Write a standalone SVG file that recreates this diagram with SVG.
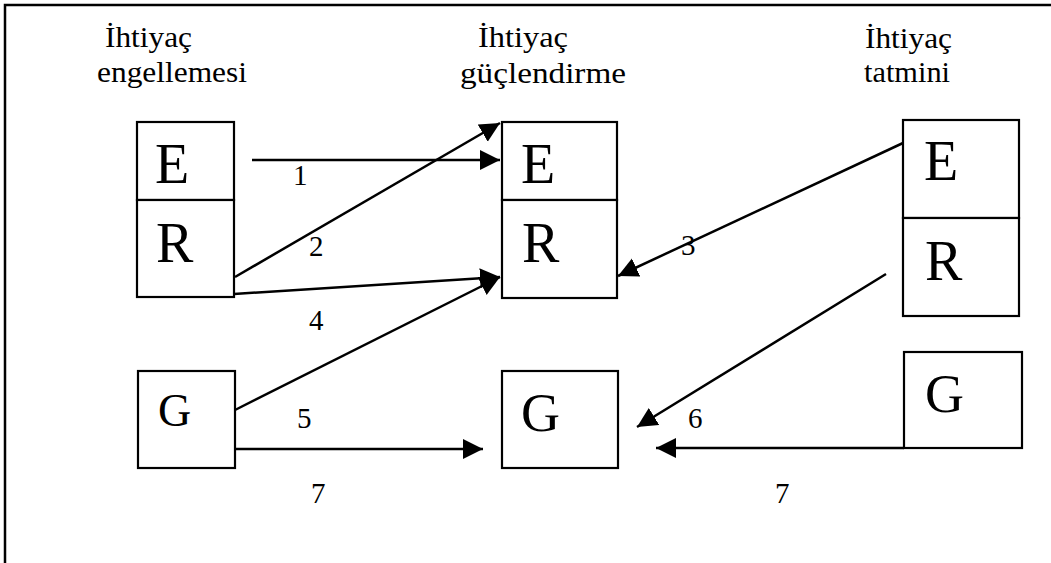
<svg xmlns="http://www.w3.org/2000/svg" width="1051" height="563" viewBox="0 0 1051 563">
<style>
.box{fill:#fff;stroke:#000;stroke-width:2.2}
.hdr{font-family:"Liberation Serif","Times New Roman",serif;font-size:29px;fill:#000}
.big{font-family:"Liberation Serif","Times New Roman",serif;font-size:56px;fill:#000}
.num{font-family:"Liberation Serif","Times New Roman",serif;font-size:29px;fill:#000}
.ln{fill:none;stroke:#000;stroke-width:2.5}
</style>
<defs>
<marker id="ah" markerUnits="userSpaceOnUse" markerWidth="22" markerHeight="22" viewBox="0 0 22 22" refX="20" refY="10" orient="auto">
<path d="M0,0 L20,10 L0,20 z" fill="#000"/>
</marker>
</defs>
<rect width="1051" height="563" fill="#fff"/>
<path d="M5,563 V5 H1051" class="ln"/>

<g id="header-left">
<text class="hdr" x="105" y="47" textLength="87" lengthAdjust="spacingAndGlyphs">İhtiyaç</text>
<text class="hdr" x="97" y="82" textLength="150" lengthAdjust="spacingAndGlyphs">engellemesi</text>
</g>
<g id="header-mid">
<text class="hdr" x="478" y="47" textLength="90" lengthAdjust="spacingAndGlyphs">İhtiyaç</text>
<text class="hdr" x="460" y="83" textLength="166" lengthAdjust="spacingAndGlyphs">güçlendirme</text>
</g>
<g id="header-right">
<text class="hdr" x="865" y="48" textLength="87" lengthAdjust="spacingAndGlyphs">İhtiyaç</text>
<text class="hdr" x="864" y="82" textLength="86" lengthAdjust="spacingAndGlyphs">tatmini</text>
</g>

<g id="left-E"><rect class="box" x="137" y="122" width="97" height="78"/><text class="big" x="155" y="183">E</text></g>
<g id="left-R"><rect class="box" x="137" y="200" width="97" height="97"/><text class="big" x="156" y="262">R</text></g>
<g id="left-G"><rect class="box" x="138" y="371" width="97" height="97"/><text class="big" x="158" y="426" style="font-size:46px">G</text></g>

<g id="mid-E"><rect class="box" x="502" y="122" width="115" height="78"/><text class="big" x="521" y="183">E</text></g>
<g id="mid-R"><rect class="box" x="502" y="200" width="115" height="98"/><text class="big" x="522" y="262">R</text></g>
<g id="mid-G"><rect class="box" x="502" y="371" width="116" height="97"/><text class="big" x="521" y="431" style="font-size:54px">G</text></g>

<g id="right-E"><rect class="box" x="903" y="120" width="116" height="98"/><text class="big" x="924" y="180">E</text></g>
<g id="right-R"><rect class="box" x="903" y="218" width="116" height="98"/><text class="big" x="925" y="280">R</text></g>
<g id="right-G"><rect class="box" x="904" y="352" width="118" height="96"/><text class="big" x="925" y="412" style="font-size:54px">G</text></g>

<g id="connectors">
<line class="ln" x1="252" y1="160" x2="500" y2="160" marker-end="url(#ah)"/>
<line class="ln" x1="235" y1="277" x2="500" y2="123" marker-end="url(#ah)"/>
<line class="ln" x1="903" y1="143" x2="618" y2="276" marker-end="url(#ah)"/>
<line class="ln" x1="234" y1="294" x2="500" y2="277" marker-end="url(#ah)"/>
<line class="ln" x1="235" y1="410" x2="500" y2="277" marker-end="url(#ah)"/>
<line class="ln" x1="886" y1="274" x2="637" y2="427" marker-end="url(#ah)"/>
<line class="ln" x1="235" y1="449" x2="483" y2="449" marker-end="url(#ah)"/>
<line class="ln" x1="904" y1="448" x2="656" y2="448" marker-end="url(#ah)"/>
</g>

<g id="labels">
<text class="num" x="293" y="185">1</text>
<text class="num" x="309" y="256">2</text>
<text class="num" x="681" y="255">3</text>
<text class="num" x="309" y="330">4</text>
<text class="num" x="297" y="428">5</text>
<text class="num" x="688" y="428">6</text>
<text class="num" x="311" y="503">7</text>
<text class="num" x="775" y="503">7</text>
</g>
</svg>
